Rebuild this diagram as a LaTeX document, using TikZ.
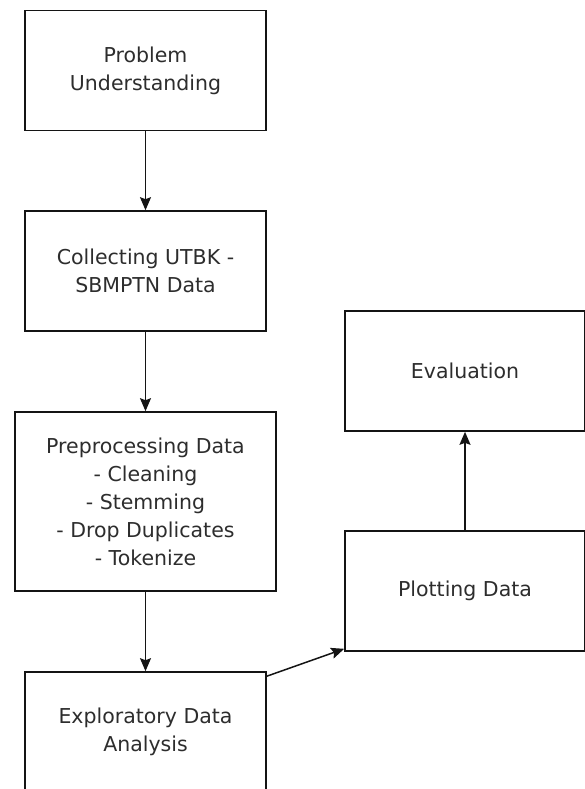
\documentclass[tikz,border=0pt]{standalone}
\usepackage{fontspec}
\setmainfont{DejaVu Sans}
\usepackage{xcolor}
\usepackage{tikz}
\usetikzlibrary{arrows.meta,positioning}
\definecolor{flowText}{RGB}{45,45,45}
\definecolor{flowLine}{RGB}{20,20,20}

\begin{document}
\begin{tikzpicture}[x=1pt,y=-1pt,
    procbox/.style={draw=flowLine, line width=1.6pt, rectangle, align=center,
        text=flowText, minimum width=241pt, minimum height=120pt, inner sep=0pt,
        font=\fontsize{20.5}{28}\selectfont},
    flow/.style={draw=flowLine, line width=1.5pt,
        -{Stealth[length=13pt,width=11pt,inset=2pt]}}]
    \useasboundingbox (0,0) rectangle (585,789);

    % left column
    \node[procbox] (problem) at (145.5,70.5) {Problem\\Understanding};
    \node[procbox] (collect) at (145.5,271) {Collecting UTBK -\\SBMPTN Data};
    \node[procbox, minimum width=261pt, minimum height=179pt] (preproc) at (145.5,501.5)
        {Preprocessing Data\\- Cleaning\\- Stemming\\- Drop Duplicates\\- Tokenize};
    \node[procbox] (explore) at (145.5,732) {Exploratory Data\\Analysis};

    % right column
    \node[procbox, minimum width=240pt] (plotting) at (465,591) {Plotting Data};
    \node[procbox, minimum width=240pt] (evaluate) at (465,371) {Evaluation};

    % connectors
    \draw[flow] (problem) -- (collect);
    \draw[flow] (collect) -- (preproc);
    \draw[flow] (preproc) -- (explore);
    \draw[flow] ([yshift=-5pt]explore.north east) -- ([yshift=3pt]plotting.south west);
    \draw[flow] (plotting) -- (evaluate);
\end{tikzpicture}
\end{document}
